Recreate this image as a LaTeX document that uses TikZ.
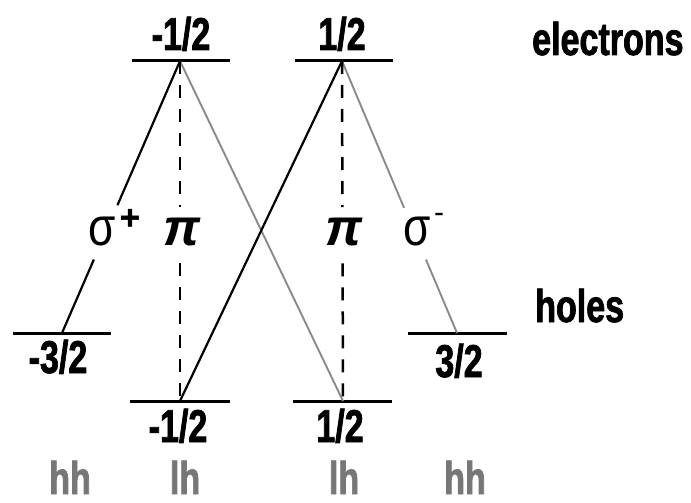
\documentclass[tikz,border=0pt]{standalone}
\usepackage{fontspec}
\setmainfont{Liberation Sans}
\newfontfamily\condf[FakeStretch=0.74,BoldFeatures={FakeBold=1.6}]{Liberation Sans}
\newfontfamily\sigf[FakeStretch=0.82]{Liberation Sans}
\newfontfamily\pif[BoldFeatures={FakeBold=1.5}]{Liberation Sans}
\usetikzlibrary{calc}
\definecolor{lgray}{HTML}{8A8A8A}
\definecolor{tgray}{HTML}{777777}
\tikzset{
  level/.style={line width=3pt},
  trans/.style={line width=2.2pt,black},
  transg/.style={line width=1.9pt,lgray},
  pidash/.style={line width=2.5pt,dash pattern=on 13pt off 11pt},
  lab/.style={inner sep=0pt,anchor=base,font=\condf\bfseries\fontsize{46}{46}\selectfont},
  glab/.style={lab,text=tgray},
  sym/.style={inner sep=0pt,anchor=base,font=\sigf\fontsize{54}{54}\selectfont},
  pisym/.style={inner sep=0pt,anchor=base,font=\pif\bfseries\itshape\fontsize{52}{52}\selectfont}
}
\begin{document}
\begin{tikzpicture}[x=1pt,y=-1pt]
\useasboundingbox (0,0) rectangle (691,503);
% meeting points
\coordinate (eL) at (180,61);
\coordinate (eR) at (342,61);
\coordinate (hL) at (62,333);
\coordinate (hR) at (457,333);
\coordinate (lL) at (180,401);
\coordinate (lR) at (343,401);
% levels
\draw[level] (132,61) -- (230,61);
\draw[level] (295,61) -- (393,61);
\draw[level] (13,333) -- (111,333);
\draw[level] (408,333) -- (507,333);
\draw[level] (130,401) -- (230,401);
\draw[level] (293,401) -- (392,401);
% transitions
\draw[trans] (eL) -- ($(eL)!0.53!(hL)$);
\draw[trans] ($(eL)!0.73!(hL)$) -- (hL);
\draw[transg] (eR) -- ($(eR)!0.54!(hR)$);
\draw[transg] ($(eR)!0.73!(hR)$) -- (hR);
\draw[transg] (eL) -- (lR);
\draw[trans] (eR) -- (lL);
\draw[pidash] (eL) -- ($(eL)!0.43!(lL)$);
\draw[pidash] ($(eL)!0.595!(lL)$) -- (lL);
\draw[pidash] (eR) -- ($(eR)!0.43!(lR)$);
\draw[pidash] ($(eR)!0.595!(lR)$) -- (lR);
% symbols
\node[sym] (sp) at (102,245) {σ};
\node[inner sep=0pt,font=\pif\bfseries\fontsize{34}{34}\selectfont] (spp) at (130,219) {+};
\node[pisym] (pi1) at (182,245) {π};
\node[pisym] (pi2) at (344,245) {π};
\node[sym] (sm) at (417,245) {σ};
\node[inner sep=0pt,font=\fontsize{30}{30}\selectfont] (smm) at (439,218) {-};
% labels
\node[lab] (t1) at (181,50) {-1/2};
\node[lab] (t2) at (342,50) {1/2};
\node[lab,anchor=base west] (el) at (532,55) {electrons};
\node[lab,anchor=base west] (ho) at (535,322) {holes};
\node[lab] (h1) at (58,373) {-3/2};
\node[lab] (h2) at (459,377) {3/2};
\node[lab] (b1) at (178,442) {-1/2};
\node[lab] (b2) at (340,442) {1/2};
\node[glab] (g1) at (70,494) {hh};
\node[glab] (g2) at (185,494) {lh};
\node[glab] (g3) at (344,494) {lh};
\node[glab] (g4) at (465,494) {hh};
\end{tikzpicture}
\end{document}
